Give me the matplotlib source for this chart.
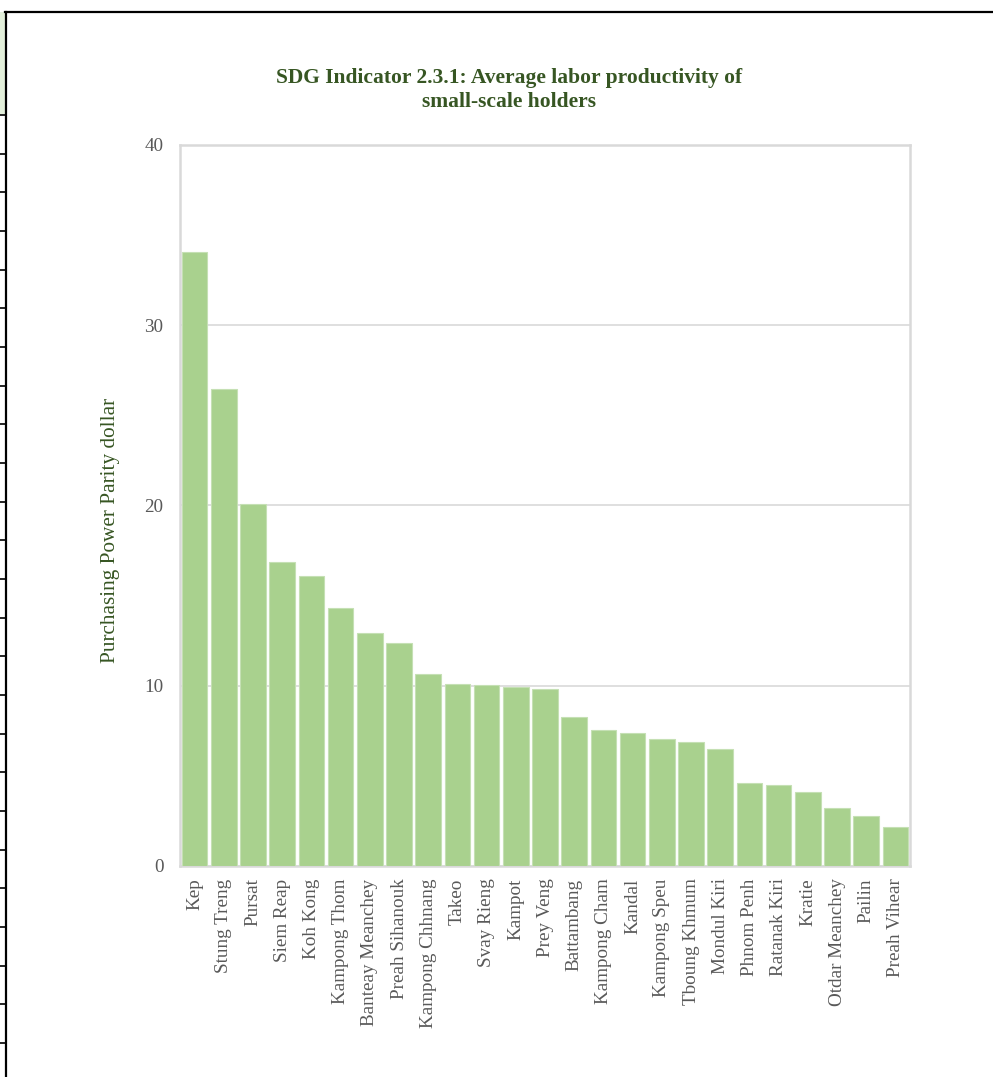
import matplotlib
matplotlib.use("Agg")
import matplotlib.pyplot as plt
from matplotlib.lines import Line2D
from matplotlib.patches import Rectangle

provinces = ["Kep", "Stung Treng", "Pursat", "Siem Reap", "Koh Kong", "Kampong Thom",
             "Banteay Meanchey", "Preah Sihanouk", "Kampong Chhnang", "Takeo", "Svay Rieng",
             "Kampot", "Prey Veng", "Battambang", "Kampong Cham", "Kandal", "Kampong Speu",
             "Tboung Khmum", "Mondul Kiri", "Phnom Penh", "Ratanak Kiri", "Kratie",
             "Otdar Meanchey", "Pailin", "Preah Vihear"]
values = [34.07, 26.46, 20.08, 16.86, 16.08, 14.31, 12.92, 12.37, 10.65, 10.09, 10.04,
          9.93, 9.82, 8.28, 7.56, 7.38, 7.06, 6.86, 6.47, 4.60, 4.49, 4.09, 3.22, 2.76, 2.15]
y_ticks = [0, 10, 20, 30, 40]

title = "SDG Indicator 2.3.1: Average labor productivity of\nsmall-scale holders"
ylabel = "Purchasing Power Parity dollar"

W, H = 993, 1077
fig = plt.figure(figsize=(W / 100, H / 100), dpi=100)
plt.rcParams['font.family'] = ['Liberation Serif', 'DejaVu Serif']

def fx(x):
    return x / W

def fy(y):
    return 1 - y / H

ax = fig.add_axes([fx(180), fy(866), fx(910) - fx(180), fy(145) - fy(866)])
x = range(len(provinces))
ax.bar(x, values, width=0.87, color="#A9D18E", edgecolor="#C5E0B4", linewidth=0.8, zorder=3)
ax.set_xlim(-0.5, len(provinces) - 0.5)
ax.set_ylim(0, 40)
ax.set_yticks(y_ticks)
ax.set_yticklabels([str(v) for v in y_ticks])
ax.set_xticks(list(x))
ax.set_xticklabels(provinces, rotation=90)
ax.tick_params(axis='both', length=0, labelsize=13.8, labelcolor="#595959")
ax.tick_params(axis='y', pad=12)
ax.tick_params(axis='x', pad=9)
ax.grid(axis='y', color="#D9D9D9", linewidth=1.2, zorder=0)
for s in ax.spines.values():
    s.set_color("#D9D9D9")
    s.set_linewidth(1.8)

fig.text(fx(111), fy(530), ylabel, rotation=90, ha='center', va='center',
         color="#375623", fontsize=15.3)

fig.text(fx(509), fy(90), title, ha='center', va='center', fontsize=15.5, fontweight='bold',
         color="#375623", linespacing=1.3)

# document frame decoration
fig.add_artist(Rectangle((0, fy(114)), fx(5), fy(12) - fy(114), transform=fig.transFigure,
                         facecolor="#E2EFDA", edgecolor='none'))
fig.add_artist(Line2D([fx(5), 1], [fy(12), fy(12)], transform=fig.transFigure, color='black', linewidth=1.6))
fig.add_artist(Line2D([fx(6), fx(6)], [fy(12), 0], transform=fig.transFigure, color='black', linewidth=1.6))
ty = 115.0
while ty < H:
    fig.add_artist(Line2D([0, fx(6)], [fy(ty), fy(ty)], transform=fig.transFigure, color='black', linewidth=1.2))
    ty += 38.67

fig.savefig("out.png", dpi=100)
